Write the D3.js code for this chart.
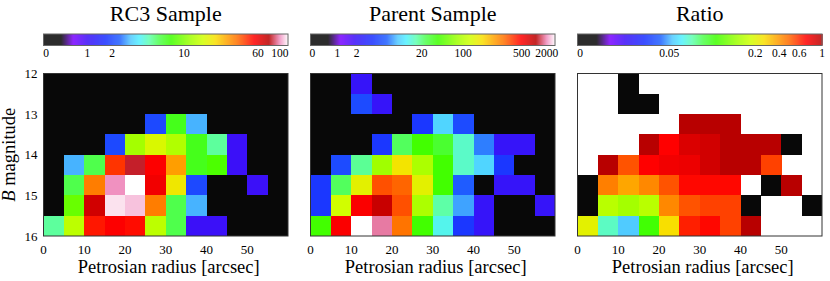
<!DOCTYPE html>
<html>
<head>
<meta charset="utf-8">
<style>
    body {
        margin: 0;
        background: #fff;
        font-family: "Liberation Serif", "Times New Roman", serif;
    }
    svg {
        display: block;
    }
    .title {
        font-size: 22px;
        text-anchor: middle;
    }
    .cb-label {
        font-size: 11.5px;
        text-anchor: middle;
    }
    .tick-label {
        font-size: 13px;
    }
    .axis-title {
        font-size: 18.5px;
        text-anchor: middle;
    }
    .frame {
        fill: none;
        stroke: #333;
        stroke-width: 1;
    }
    .cell {
        shape-rendering: crispEdges;
    }
</style>
</head>
<body>
<script src="https://d3js.org/d3.v7.min.js"></script>
<script>

    // bins: petrosian radius (arcsec, left edges) and B magnitude (top edges)
    var radiusBins = [0, 5, 10, 15, 20, 25, 30, 35, 40, 45, 50, 55];
    var magBins = [12, 12.5, 13, 13.5, 14, 14.5, 15, 15.5];

    // galaxy counts per cell, rows = magBins, columns = radiusBins
    var rc3Counts = [
        [0, 0, 0, 0, 0, 0, 0, 0, 0, 0, 0, 0],
        [0, 0, 0, 0, 0, 0, 0, 0, 0, 0, 0, 0],
        [0, 0, 0, 0, 0, 2, 7, 3, 0, 0, 0, 0],
        [0, 0, 0, 2, 12, 17, 13, 7, 5, 1, 0, 0],
        [0, 3, 6, 45, 81, 55, 29, 7, 8, 1, 0, 0],
        [0, 6, 34, 99, 120, 58, 20, 2, 0, 0, 1, 0],
        [0, 9, 68, 114, 108, 34, 6, 3, 0, 0, 0, 0],
        [5, 14, 50, 55, 52, 14, 6, 1, 1, 0, 0, 0]
    ];

    var parentCounts = [
        [0, 0, 2, 0, 0, 0, 0, 0, 0, 0, 0, 0],
        [0, 0, 5, 2, 0, 0, 0, 0, 0, 0, 0, 0],
        [0, 0, 0, 0, 0, 4, 10, 5, 0, 0, 0, 0],
        [0, 0, 0, 4, 22, 38, 28, 15, 7, 2, 2, 0],
        [0, 5, 18, 80, 160, 90, 38, 15, 10, 4, 0, 0],
        [4, 22, 140, 350, 320, 140, 38, 6, 0, 2, 2, 0],
        [4, 120, 500, 900, 350, 90, 17, 8, 2, 0, 0, 2],
        [38, 500, 2500, 1800, 300, 38, 13, 4, 2, 0, 0, 0]
    ];

    // RC3 / parent, null where the parent cell is empty
    var ratioValues = [
        [null, null, 0, null, null, null, null, null, null, null, null, null],
        [null, null, 0, 0, null, null, null, null, null, null, null, null],
        [null, null, null, null, null, 1, 1, 1, null, null, null, null],
        [null, null, null, 1, 0.72, 0.86, 0.9, 1, 1, 1, 0, null],
        [null, 1, 0.53, 0.72, 0.77, 0.79, 0.9, 1, 1, 0.56, null, null],
        [0, 0.45, 0.37, 0.43, 0.53, 0.7, 0.7, 0.7, null, 0, 1, null],
        [0, 0.18, 0.17, 0.18, 0.43, 0.53, 0.56, 0.56, 0, null, null, 0],
        [0.21, 0.085, 0.056, 0.13, 0.27, 0.63, 0.7, 0.56, 1, null, null, null]
    ];

    var panelTitles = ["RC3 Sample", "Parent Sample", "Ratio"];
    var rc3Ticks = [0, 1, 2, 10, 60, 100];
    var parentTicks = [0, 1, 2, 20, 100, 500, 2000];
    var ratioTicks = [0, 0.05, 0.2, 0.4, 0.6, 1];
    var radiusTicks = [0, 10, 20, 30, 40, 50];
    var magTicks = [12, 13, 14, 15, 16];

    var width = 830,
        height = 281,
        firstLeft = 43.5,
        panelStep = 267,
        panelWidth = 244.5,
        plotTop = 73.5,
        plotBottom = 236,
        cbTop = 34,
        cbHeight = 11.5;

    // rainbow + white colour table
    var cmap = d3.scaleLinear()
        .domain([0, 0.07, 0.12, 0.18, 0.25, 0.31, 0.355, 0.39, 0.43, 0.47, 0.52, 0.6, 0.65, 0.7, 0.75, 0.79, 0.82, 0.86, 0.92, 0.965, 1])
        .range(["#080808", "#080808", "#7a00ff", "#3a10f8", "#1a30ff", "#2060ff", "#50c8ff", "#50f0ff", "#60ffb0", "#50ff50",
                "#40ff00", "#a0ff00", "#d0ff00", "#f8e000", "#ffa000", "#ff7000", "#ff4000", "#ff0000", "#b80000", "#f090c0", "#ffffff"])
        .interpolate(d3.interpolateRgb)
        .clamp(true);

    var panels = [
        {title: panelTitles[0], data: rc3Counts, ticks: rc3Ticks, fn: Math.log1p, cmapTop: 1,
         stretch: [0.011, 0.179, 0.281, 0.575, 0.877, 0.967, 1], maxVal: 120},
        {title: panelTitles[1], data: parentCounts, ticks: parentTicks, fn: Math.log1p, cmapTop: 1,
         stretch: [0.008, 0.11, 0.189, 0.455, 0.624, 0.863, 0.966, 1], maxVal: 2500},
        {title: panelTitles[2], data: ratioValues, ticks: ratioTicks, fn: function(v) {return v}, cmapTop: 0.92,
         stretch: [0.011, 0.375, 0.727, 0.825, 0.907, 1], maxVal: null}
    ];

    var x = d3.scaleLinear().domain([0, 60]).range([0, panelWidth]);
    var y = d3.scaleLinear().domain([12, 16]).range([plotTop, plotBottom]);

    var svg = d3.select("body").append("svg")
        .attr("width", width)
        .attr("height", height);

    panels.forEach(function(p, i) {
        var left = firstLeft + i * panelStep;
        var dom = p.ticks.slice();
        if (p.maxVal !== null) dom.push(p.maxVal);
        var stretch = d3.scaleLinear()
            .domain(dom.map(p.fn))
            .range(p.stretch)
            .clamp(true);
        var colour = function(v) {return cmap(stretch(p.fn(v)) * p.cmapTop)};

        var g = svg.append("g").attr("transform", "translate(" + left + ",0)");

        g.append("text")
            .attr("class", "title")
            .attr("x", panelWidth / 2)
            .attr("y", 21)
            .text(p.title);

        // colour bar
        var cb = g.append("g");
        cb.selectAll("rect")
            .data(d3.range(0, Math.ceil(panelWidth)))
          .enter().append("rect")
            .attr("x", function(d) {return d})
            .attr("y", cbTop)
            .attr("width", 1.2)
            .attr("height", cbHeight)
            .attr("fill", function(d) {return cmap(Math.min(1, d / panelWidth) * p.cmapTop)});
        cb.append("rect")
            .attr("width", panelWidth)
            .attr("height", cbHeight)
            .attr("y", cbTop)
            .attr("fill", "none")
            .attr("stroke", "#666");
        cb.selectAll("text")
            .data(p.ticks)
          .enter().append("text")
            .attr("class", "cb-label")
            .attr("x", function(d) {return stretch(p.fn(d)) * panelWidth})
            .attr("y", 56.5)
            .text(function(d) {return d});

        // heat map cells
        var cells = [];
        p.data.forEach(function(row, r) {
            row.forEach(function(v, c) {
                if (v !== null) cells.push({mag: magBins[r], rad: radiusBins[c], v: v});
            });
        });
        g.selectAll(".cell")
            .data(cells)
          .enter().append("rect")
            .attr("class", "cell")
            .attr("x", function(d) {return x(d.rad)})
            .attr("y", function(d) {return y(d.mag)})
            .attr("width", x(5) - x(0) + 0.3)
            .attr("height", y(12.5) - y(12) + 0.3)
            .attr("fill", function(d) {return colour(d.v)});

        g.append("rect")
            .attr("class", "frame")
            .attr("x", 0)
            .attr("y", plotTop)
            .attr("width", panelWidth)
            .attr("height", plotBottom - plotTop);

        g.selectAll(".xlab")
            .data(radiusTicks)
          .enter().append("text")
            .attr("class", "tick-label")
            .attr("text-anchor", "middle")
            .attr("x", function(d) {return x(d)})
            .attr("y", 253.5)
            .text(function(d) {return d});

        g.append("text")
            .attr("class", "axis-title")
            .attr("x", panelWidth / 2 + 3)
            .attr("y", 273)
            .text("Petrosian radius [arcsec]");

        if (i === 0) {
            g.selectAll(".ylab")
                .data(magTicks)
              .enter().append("text")
                .attr("class", "tick-label")
                .attr("text-anchor", "end")
                .attr("x", -6)
                .attr("y", function(d) {return y(d)})
                .attr("dy", "0.35em")
                .text(function(d) {return d});

            var yt = g.append("text")
                .attr("class", "axis-title")
                .attr("transform", "translate(" + (15 - left) + "," + ((plotTop + plotBottom) / 2) + ") rotate(-90)");
            yt.append("tspan").attr("font-style", "italic").text("B");
            yt.append("tspan").text(" magnitude");
        }
    });
</script>
</body>
</html>
